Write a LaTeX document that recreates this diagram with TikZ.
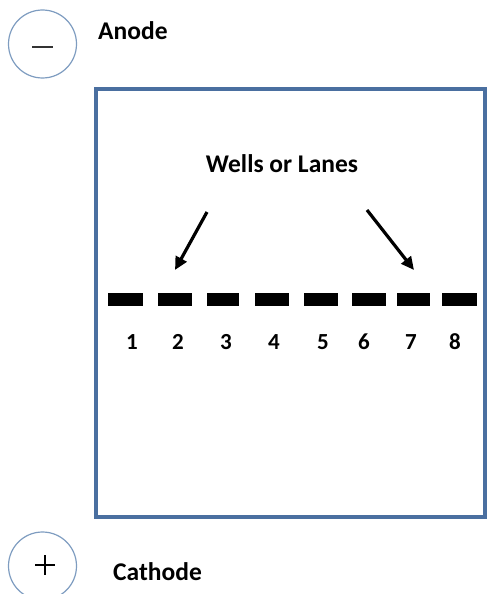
\documentclass[tikz,border=0pt]{standalone}
\usepackage{fontspec}
\setmainfont{Carlito}
\usetikzlibrary{arrows.meta}
\definecolor{gelblue}{HTML}{4A6FA0}
\definecolor{ringblue}{HTML}{7E9CC0}
\begin{document}
\begin{tikzpicture}[x=1pt,y=-1pt,
  lbl/.style={font=\bfseries\fontsize{25.5}{28}\selectfont, inner sep=0pt},
  num/.style={font=\bfseries\fontsize{23}{26}\selectfont, inner sep=0pt},
  well/.style={fill=black, draw=none, minimum height=13pt, inner sep=0pt},
  ring/.style={circle, draw=ringblue, line width=1.2pt, minimum size=68pt, inner sep=0pt},
  pointer/.style={line width=3.2pt, -{Triangle[length=13pt,width=12pt]}}]
\useasboundingbox (0,0) rectangle (488,594);
\node[ring] (minus) at (42.5,44) {};
\draw[line width=1.6pt, black!80] (32,47) -- (53,47);
\node[ring] (plus) at (42.5,566) {};
\draw[line width=1.3pt] (35,565) -- (55,565) (45,555) -- (45,575);
\node[lbl, anchor=west] (anode) at (98,31) {Anode};
\node[lbl, anchor=west] (cathode) at (113,572) {Cathode};
\node[draw=gelblue, line width=4pt, minimum width=389pt, minimum height=428pt, inner sep=0pt] (gel) at (290,302.5) {};
\node[lbl] (title) at (282,164) {Wells or Lanes};
\foreach \i/\a/\b/\n in {1/108/143/132, 2/158/192/178, 3/207/239/226, 4/255/289/274, 5/304/338/323, 6/352/386/364, 7/397/430/411, 8/442/477/455}{
  \node[well, minimum width={\b-\a}] (w\i) at ({(\a+\b)/2},299.5) {};
  \node[num] (n\i) at (\n,342) {\i};
}
\coordinate (la) at (207,212);
\coordinate (lb) at (175,270);
\coordinate (ra) at (367,210);
\coordinate (rb) at (414,270);
\draw[pointer] (la) -- (lb);
\draw[pointer] (ra) -- (rb);
\end{tikzpicture}
\end{document}
